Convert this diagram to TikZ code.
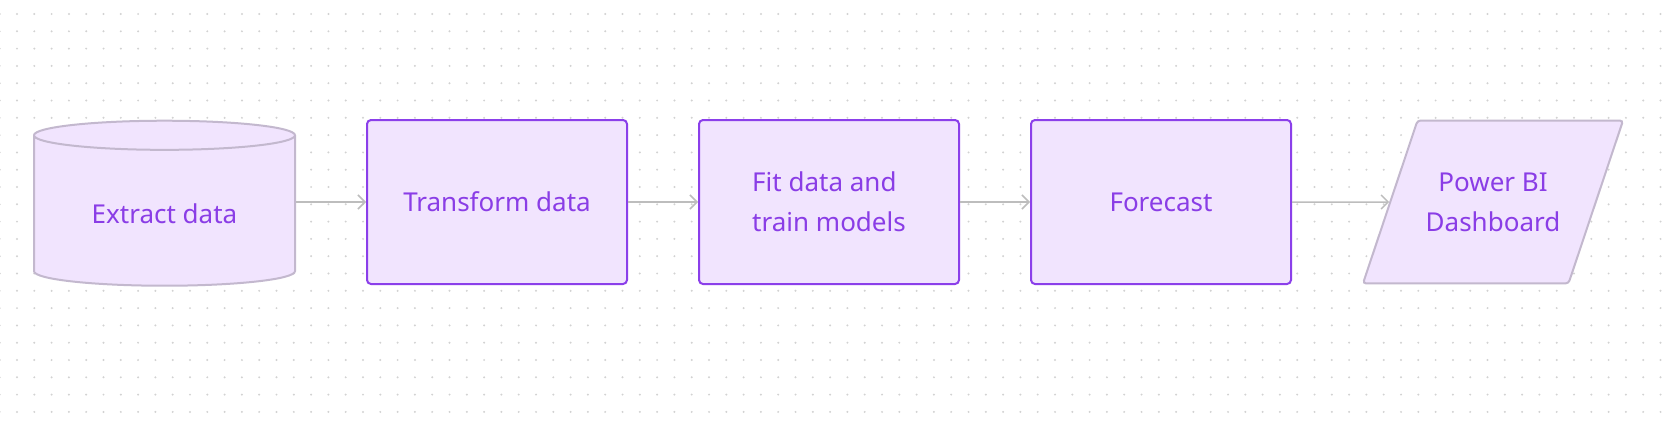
\documentclass[tikz,border=0pt]{standalone}
\usepackage{fontspec}
\setmainfont{Noto Sans}
\usetikzlibrary{shapes.geometric,arrows.meta}

\definecolor{boxfill}{HTML}{F1E4FE}
\definecolor{boxedge}{HTML}{8B3FEA}
\definecolor{boxtext}{HTML}{8A3DE6}
\definecolor{shapeedge}{HTML}{C3B8CE}
\definecolor{linkgray}{HTML}{BDBDBD}
\definecolor{dotgray}{HTML}{D2D2D2}

\begin{document}
\begin{tikzpicture}[x=1pt,y=-1pt,
  every node/.style={font=\fontsize{26}{40}\selectfont, text=boxtext, align=center, inner sep=0pt},
  stepbox/.style={draw=boxedge, fill=boxfill, line width=2pt, rounded corners=4pt,
    minimum width=260pt, minimum height=164pt},
  dbshape/.style={cylinder, shape border rotate=90, aspect=0.2, draw=shapeedge,
    fill=boxfill, line width=2pt, minimum width=261pt, minimum height=165pt,
    text height=25pt, text depth=0pt},
  outshape/.style={trapezium, trapezium left angle=71.5, trapezium right angle=108.5,
    trapezium stretches body, draw=shapeedge, fill=boxfill, line width=2pt,
    rounded corners=3pt, minimum width=260pt, inner ysep=52pt},
  link/.style={draw=linkgray, line width=1.5pt, -{Straight Barb[length=7pt,width=14pt]}}]

  % Page and dotted background
  \useasboundingbox[fill=white] (0,0) rectangle (1669,423);
  \foreach \i in {0,...,96}
    \foreach \j in {0,...,23}
      \fill[dotgray] (17.3*\i-0.3,14+17.3*\j) circle (1.1pt);

  % Pipeline steps
  \node[dbshape] (extract) at (164.5,211) {Extract data};
  \node[stepbox] (transform) at (497,202) {Transform data};
  \node[stepbox, align=left] (fit) at (829,202) {Fit data and\\train models};
  \node[stepbox] (forecast) at (1161,202) {Forecast};
  \node[outshape] (dashboard) at (1493,202) {Power BI\\Dashboard};

  % Arrows between steps
  \draw[link] (extract.east |- transform.west) -- (transform.west);
  \draw[link] (transform) -- (fit);
  \draw[link] (fit) -- (forecast);
  \draw[link] (forecast) -- (dashboard);

\end{tikzpicture}
\end{document}
